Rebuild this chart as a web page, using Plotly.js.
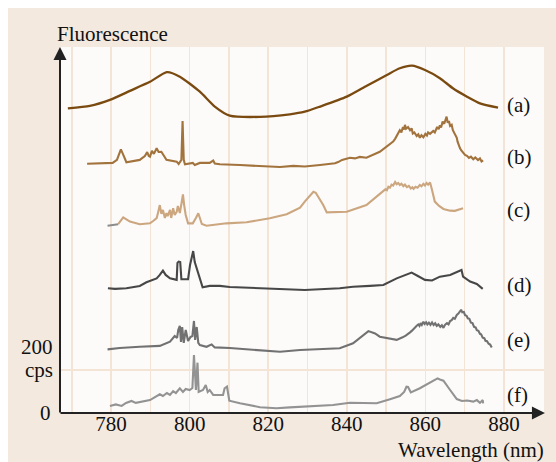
<!DOCTYPE html>
<html>
<head>
<meta charset="utf-8">
<script src="https://cdn.plot.ly/plotly-3.0.1.min.js"></script>
<style>
html,body{margin:0;padding:0;background:#ffffff;}
#chart{position:absolute;left:8px;top:8px;width:548px;height:454px;}
</style>
</head>
<body>
<div id="chart"></div>
<script>
// Wavelength (nm) and fluorescence (cps, vertically stacked as drawn)
var aX = [769.0,774.6,779.7,784.8,789.9,794.2,797.5,802.6,806.4,810.2,817.9,825.5,829.3,833.2,840.0,845.1,850.2,853.5,856.6,859.9,863.7,867.0,870.6,873.9,878.5];
var aY = [1417,1428,1456,1498,1540,1585,1564,1494,1425,1383,1377,1389,1401,1425,1471,1522,1572,1603,1615,1595,1557,1510,1471,1440,1420];

var bX = [773.9,780.4,781.5,782.1,782.5,783.0,783.9,787.3,788.6,789.2,789.6,789.9,790.4,790.9,791.6,792.1,792.8,794.1,796.7,797.2,797.9,798.2,798.5,798.8,800.8,801.3,802.6,805.1,806.0,806.4,807.7,812.8,819.6,823.0,826.4,829.3,833.2,837.0,837.8,838.3,838.8,840.8,842.1,843.3,845.0,848.4,850.2,851.8,852.3,852.8,853.2,853.5,853.9,854.3,854.6,854.8,855.1,855.6,856.1,856.5,856.8,857.2,857.8,858.2,858.6,859.0,859.5,860.0,860.4,860.7,861.2,862.0,862.4,863.0,863.4,863.7,864.0,864.4,864.8,865.1,865.4,865.7,866.0,866.3,866.7,867.0,867.3,867.6,868.0,868.2,868.4,868.6,868.8,869.1,869.5,869.8,870.1,870.6,871.1,871.6,872.2,872.7,873.4,873.9,874.3,874.7];
var bY = [1159,1163,1177,1209,1226,1205,1166,1177,1195,1213,1195,1192,1219,1205,1231,1214,1215,1177,1169,1158,1177,1358,1177,1157,1163,1153,1163,1163,1174,1160,1157,1153,1146,1144,1149,1146,1153,1161,1167,1172,1177,1187,1184,1191,1187,1215,1238,1262,1275,1290,1300,1315,1305,1330,1318,1340,1322,1330,1315,1324,1300,1305,1288,1296,1280,1292,1282,1298,1290,1305,1298,1312,1305,1330,1320,1338,1328,1355,1345,1362,1378,1350,1358,1335,1340,1315,1305,1290,1280,1262,1250,1240,1232,1222,1215,1205,1200,1196,1186,1192,1180,1188,1176,1184,1170,1175];

var c0X = [779.1,780.4,781.8];
var c0Y = [871,874,878];
var cX = [781.8,783.1,783.8,784.8,787.3,789.9,790.7,791.6,792.0,792.4,792.8,793.2,793.7,794.1,794.4,795.0,795.3,795.8,796.2,796.7,797.0,797.5,797.9,798.3,798.6,799.0,799.6,800.8,801.6,802.2,802.6,803.1,804.3,806.7,809.4,814.5,820.4,824.7,828.1,829.3,830.6,831.5,832.1,832.6,833.2,834.0,834.9,837.0,840.0,845.0,849.3,849.8,850.2,850.6,851.0,851.4,851.8,852.3,852.7,853.1,853.5,853.9,854.4,854.8,855.3,855.8,856.3,856.7,857.0,857.5,858.0,858.6,859.0,859.5,859.9,860.3,860.7,861.2,861.7,862.4,863.5,864.6,866.3,867.5,869.6];
var cY = [878,910,902,890,878,882,893,906,935,967,926,944,907,930,916,944,907,952,921,935,963,930,972,1017,967,921,882,882,907,929,907,879,871,877,882,887,906,924,955,983,1009,1029,1024,1009,986,967,933,933,936,967,1029,1040,1036,1052,1048,1062,1058,1074,1064,1070,1060,1066,1055,1062,1050,1056,1044,1050,1042,1052,1048,1060,1054,1066,1058,1070,1062,1072,1037,983,963,949,941,940,952];

var dX = [779.2,781.0,783.9,787.3,789.0,791.6,792.4,793.2,793.9,795.0,796.7,796.9,797.2,797.6,797.9,799.0,799.6,800.1,800.9,801.3,801.8,802.2,802.6,803.3,805.1,807.7,810.2,817.9,823.0,829.3,838.2,841.6,845.9,849.3,852.7,854.8,856.5,858.1,859.9,861.7,863.7,866.3,868.8,869.2,869.6,871.4,873.1,874.6];
var dY = [580,577,580,591,608,626,642,662,642,626,619,698,704,702,622,623,622,688,753,702,674,656,628,585,591,591,586,580,574,572,580,587,591,595,626,642,653,637,619,616,634,642,660,665,634,611,600,577];

var eX = [779.1,782.2,787.3,792.4,795.0,796.2,796.8,797.1,797.5,797.8,798.1,798.5,799.0,799.6,800.2,800.7,801.1,801.4,801.8,802.2,802.6,804.3,805.6,806.4,810.2,817.9,823.0,828.1,838.2,841.6,845.5,847.2,848.4,852.7,853.5,854.2,855.0,855.6,856.1,856.6,857.0,857.4,857.8,858.2,858.5,858.8,859.1,859.5,859.8,860.2,860.5,860.9,861.3,861.7,862.1,862.5,862.9,863.3,863.8,864.2,864.6,865.0,865.5,865.9,866.3,866.7,867.1,867.5,868.0,868.4,868.8,869.1,869.4,869.8,870.1,870.5,870.8,871.2,871.6,872.0,872.4,872.8,873.1,873.5,873.9,874.2,874.6,875.0,875.3,875.7,876.1,876.5,876.9];
var eY = [296,302,308,312,332,358,349,386,405,330,400,326,386,335,353,358,428,340,400,326,316,308,319,305,302,293,285,293,301,324,381,370,355,340,345,352,360,366,375,383,392,398,406,412,405,418,410,425,414,422,412,420,410,421,409,417,405,412,400,408,396,410,418,412,428,432,442,438,456,462,470,480,468,470,455,452,440,438,420,418,400,398,385,382,368,366,350,348,336,334,322,318,305];

var fX = [779.7,781.2,782.7,783.8,785.2,786.3,789.9,792.4,793.2,794.2,795.0,795.8,796.5,797.5,798.3,799.0,800.0,800.7,801.1,801.6,802.0,802.3,803.4,804.1,804.6,805.1,806.0,808.5,808.9,809.5,810.1,812.8,817.9,822.1,825.5,829.3,836.5,840.8,847.6,851.0,853.5,854.6,855.2,855.6,856.3,858.6,861.2,863.1,863.7,864.6,866.3,868.0,869.3,870.6,872.2,873.1,873.9,874.6,874.7];
var fY = [33,40,33,47,56,47,60,87,79,93,84,102,93,115,98,112,107,116,270,107,234,98,107,130,98,107,84,84,115,123,57,45,27,22,26,29,37,48,45,64,79,98,122,121,96,115,141,161,156,150,107,65,56,58,53,60,47,60,45];

var seriesLabels = ['(a)','(b)','(c)','(d)','(e)','(f)'];
var xTickVals = [770,780,790,800,810,820,830,840,850,860,870,880];
var xTickText = ['','780','','800','','820','','840','','860','','880'];

var serif = 'Liberation Serif, Times New Roman, serif';
var fs = 21;
function tr(x, y, color, shape, w){
  return {x:x, y:y, type:'scatter', mode:'lines', hoverinfo:'skip',
          line:{color:color, width:w||2.1, shape:shape||'linear', smoothing:0.6}};
}
var data = [
  tr(aX, aY, '#7a4a10', 'spline', 2.3),
  tr(bX, bY, '#a2733c'),
  tr(c0X, c0Y, '#8c8c8c'),
  tr(cX, cY, '#cba67f'),
  tr(dX, dY, '#474747'),
  tr(eX, eY, '#717171'),
  tr(fX, fY, '#939393')
];

var labelYs = [0.8415,0.6995,0.5546,0.3497,0.1995,0.0492];
var ann = seriesLabels.map(function(t,i){
  return {xref:'paper', yref:'paper', x:0.919, y:labelYs[i], xanchor:'left', yanchor:'middle',
          text:t, showarrow:false, font:{family:serif, size:fs, color:'#111'}};
});
ann.push({xref:'paper', yref:'paper', x:-0.010, y:1.0355, xanchor:'left', yanchor:'middle',
          text:'Fluorescence', showarrow:false, font:{family:serif, size:fs, color:'#111'}});
ann.push({xref:'paper', yref:'paper', x:1.004, y:-0.102, xanchor:'right', yanchor:'middle',
          text:'Wavelength (nm)', showarrow:false, font:{family:serif, size:fs, color:'#111'}});
ann.push({xref:'paper', yref:'paper', x:-0.0145, y:0, xanchor:'right', yanchor:'middle',
          text:'0', showarrow:false, font:{family:serif, size:fs, color:'#111'}});
ann.push({xref:'paper', yref:'paper', x:-0.0103, y:0.1803, xanchor:'right', yanchor:'middle',
          text:'200', showarrow:false, font:{family:serif, size:fs, color:'#111'}});
ann.push({xref:'paper', yref:'paper', x:-0.0103, y:0.1175, xanchor:'right', yanchor:'middle',
          text:'cps', showarrow:false, font:{family:serif, size:fs, color:'#111'}});
// axis arrows
ann.push({xref:'paper', yref:'paper', x:0, y:1, ax:0, ay:367, text:'', showarrow:true,
          arrowhead:2, arrowsize:1.3, arrowwidth:2, arrowcolor:'#222'});
ann.push({xref:'paper', yref:'paper', x:1.002, y:0, ax:-486, ay:0, text:'', showarrow:true,
          arrowhead:2, arrowsize:1.3, arrowwidth:2, arrowcolor:'#222'});

var layout = {
  width:548, height:454,
  margin:{l:52, r:12, t:39, b:49},
  paper_bgcolor:'#f3e9df',
  plot_bgcolor:'#fcfbfa',
  showlegend:false,
  xaxis:{range:[767.0,890.2], tickmode:'array', tickvals:xTickVals, ticktext:xTickText,
         showgrid:true, gridcolor:'#f3e4d6', gridwidth:1.5, zeroline:false, showline:false,
         ticks:'', ticklabelstandoff:-4, tickfont:{family:serif, size:fs, color:'#111'}, fixedrange:true},
  yaxis:{range:[0,1702], tickmode:'array', tickvals:[200], showticklabels:false,
         showgrid:true, gridcolor:'#f3e4d6', gridwidth:1.5, zeroline:false, showline:false,
         ticks:'', fixedrange:true},
  annotations:ann
};
Plotly.newPlot('chart', data, layout, {staticPlot:true, displayModeBar:false});
</script>
</body>
</html>
